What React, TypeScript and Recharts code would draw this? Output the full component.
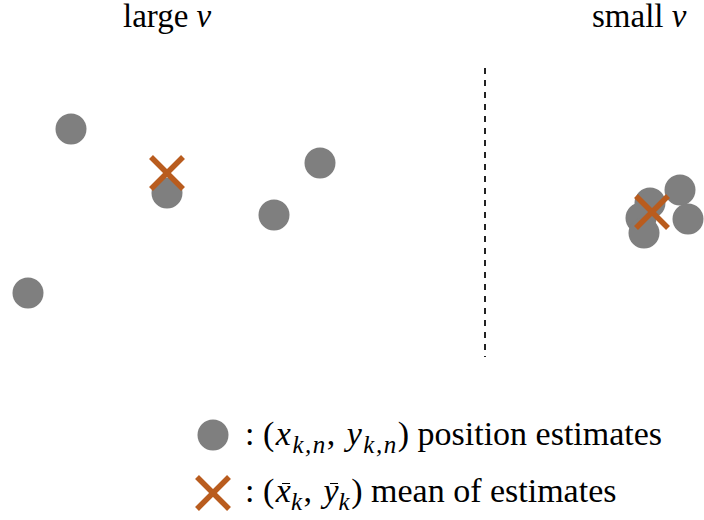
import React from "react";
import { ScatterChart, Scatter, XAxis, YAxis, ReferenceLine } from "recharts";

// Position estimates (picture units: x to the right, y downward)
const largeNuX = [71, 167, 320, 274, 28];
const largeNuY = [129, 193, 163, 215, 293];
const smallNuX = [680, 650, 641, 644, 688];
const smallNuY = [190, 203, 218, 233, 219];
// Means of estimates
const meanX = [167, 652];
const meanY = [173, 212];
// Divider
const dividerX = 485;
const dividerY = [68, 357];
// Titles
const titleLabels = ["large ", "small "];
const titleX = [123, 592];

const GREY = "#7F7F7F";
const ORANGE = "#B95C1E";
const SERIF = "Liberation Serif";

const estimates = [
  ...largeNuX.map((x, i) => ({ x, y: largeNuY[i] })),
  ...smallNuX.map((x, i) => ({ x, y: smallNuY[i] })),
];
const means = meanX.map((x, i) => ({ x, y: meanY[i] }));

const Dot = (props: any) => {
  const { cx, cy } = props;
  if (cx == null || cy == null) return null;
  return <circle cx={cx} cy={cy} r={15.5} fill={GREY} />;
};

const Cross = (props: any) => {
  const { cx, cy } = props;
  if (cx == null || cy == null) return null;
  const h = 16;
  return (
    <g stroke={ORANGE} strokeWidth={5.5}>
      <line x1={cx - h} y1={cy - h} x2={cx + h} y2={cy + h} />
      <line x1={cx - h} y1={cy + h} x2={cx + h} y2={cy - h} />
    </g>
  );
};

const LFS = 34;
const math: React.CSSProperties = { fontStyle: "italic", letterSpacing: 1.5 };
const Sub = ({ t }: { t: string }) => (
  <span style={{ fontStyle: "italic", fontSize: 25, position: "relative", top: 8, letterSpacing: 1.5 }}>{t}</span>
);
const Bar = ({ t }: { t: string }) => (
  <span style={{ position: "relative", fontStyle: "italic" }}>
    {t}
    <span
      style={{
        position: "absolute",
        left: "0.18em",
        right: "0.02em",
        top: 11,
        height: 0,
        borderTop: "1.6px solid #000",
      }}
    />
  </span>
);

const lineDiv = (baseline: number, fs: number): React.CSSProperties => ({
  position: "absolute",
  top: baseline - 0.8375 * fs,
  fontFamily: SERIF,
  fontSize: fs,
  lineHeight: 1,
  whiteSpace: "nowrap",
  color: "#000",
});

export default function App() {
  return (
    <div style={{ position: "absolute", left: 0, top: 0, width: 704, height: 520, background: "#fff", fontFamily: SERIF }}>
      <ScatterChart width={704} height={520} margin={{ top: 0, right: 0, bottom: 0, left: 0 }}>
        <XAxis type="number" dataKey="x" domain={[0, 704]} hide allowDataOverflow />
        <YAxis type="number" dataKey="y" domain={[0, 520]} reversed hide allowDataOverflow />
        <ReferenceLine
          segment={[
            { x: dividerX, y: dividerY[0] },
            { x: dividerX, y: dividerY[1] },
          ]}
          stroke="#222"
          strokeWidth={2}
          strokeDasharray="6 6"
        />
        <Scatter data={estimates} shape={Dot} isAnimationActive={false} />
        <Scatter data={means} shape={Cross} isAnimationActive={false} />
      </ScatterChart>
      <svg width={704} height={520} style={{ position: "absolute", left: 0, top: 0, pointerEvents: "none" }}>
        <circle cx={213} cy={435} r={15.5} fill={GREY} />
        <g stroke={ORANGE} strokeWidth={5.5}>
          <line x1={197} y1={477} x2={229} y2={509} />
          <line x1={197} y1={509} x2={229} y2={477} />
        </g>
      </svg>
      {titleLabels.map((t, i) => (
        <div key={i} style={{ ...lineDiv(28, 33), left: titleX[i] }}>
          {t}
          <i>ν</i>
        </div>
      ))}
      <div style={{ ...lineDiv(445, LFS), left: 245 }}>
        {": "}
        <span style={{ letterSpacing: 1.5 }}>(</span>
        <span style={math}>x</span>
        <Sub t="k,n" />
        <span style={{ letterSpacing: 1.5 }}>{", "}</span>
        <span style={math}>y</span>
        <Sub t="k,n" />
        {") position estimates"}
      </div>
      <div style={{ ...lineDiv(502, LFS), left: 245 }}>
        {": "}
        <span style={{ letterSpacing: 1.5 }}>(</span>
        <Bar t="x" />
        <Sub t="k" />
        <span style={{ letterSpacing: 1.5 }}>{", "}</span>
        <Bar t="y" />
        <Sub t="k" />
        {") mean of estimates"}
      </div>
    </div>
  );
}
